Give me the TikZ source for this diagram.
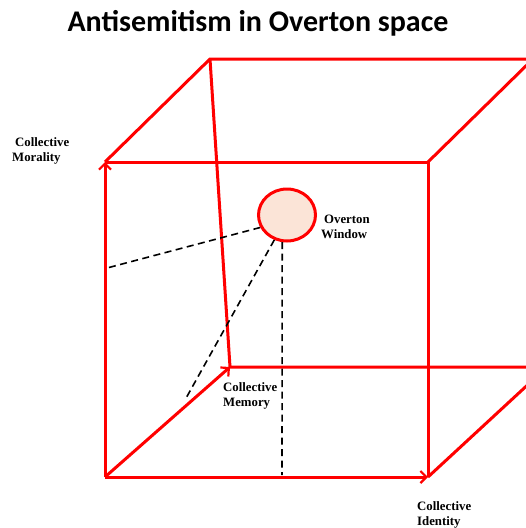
\documentclass[tikz,border=0pt]{standalone}
\usepackage{fontspec}
\setmainfont{Liberation Serif}
\newfontfamily\titlefont{Carlito}
\usetikzlibrary{arrows.meta,shapes.geometric}
\definecolor{cEdge}{HTML}{FF0000}
\definecolor{cWin}{HTML}{FBE4D7}
\tikzset{
  edge/.style={draw=cEdge,line width=3pt,line join=miter},
  aedge/.style={edge,-{Straight Barb[length=6pt,width=12pt,line width=2.2pt]}},
  guide/.style={draw=black,line width=1.6pt,dash pattern=on 7pt off 4.5pt},
  lbl/.style={font=\bfseries\fontsize{12.8}{15}\selectfont,align=left,inner sep=0pt,anchor=north west},
  win/.style={ellipse,draw=cEdge,fill=cWin,line width=3pt,minimum width=57pt,minimum height=52pt,inner sep=0pt}}
\begin{document}
\begin{tikzpicture}[x=1pt,y=-1pt]
\useasboundingbox (0,0) rectangle (526,528);
\clip (0,0) rectangle (526,528);
% cube corners
\coordinate (fbl) at (105,477);
\coordinate (fbr) at (428,477);
\coordinate (ftl) at (105,162);
\coordinate (ftr) at (428,162);
\coordinate (btl) at (210,59);
\coordinate (btr) at (533,59);
\coordinate (bbl) at (230,367);
\coordinate (bbr) at (547,367);
\node[font=\titlefont\bfseries\fontsize{30}{34}\selectfont,anchor=base] (title) at (258,31) {Antisemitism in Overton space};
% back and front faces
\draw[edge] (ftl) -- (btl) -- (btr);
\draw[edge] (btr) -- (ftr);
\draw[edge] (ftl) -- (ftr) -- (fbr);
\draw[edge] (btl) -- (bbl) -- (bbr) -- (fbr);
% axes
\draw[aedge] (fbl) -- (ftl);
\draw[aedge] (fbl) -- (fbr);
\draw[aedge] (fbl) -- (bbl);
% window and its projections
\node[win] (ow) at (287,215) {};
\coordinate (pmor) at (107,268);
\coordinate (pmem) at (185,400);
\coordinate (pid) at (282,475);
\draw[guide] (ow.205) -- (pmor);
\draw[guide] (ow.243) -- (pmem);
\draw[guide] (ow.-100) -- (pid);
% labels
\node[lbl] (lmor) at (12,137) {\hspace{3pt}Collective\\Morality};
\node[lbl] (lwin) at (321,215) {\hspace{3pt}Overton\\Window};
\node[lbl] (lmem) at (223,382) {Collective\\Memory};
\node[lbl] (lid) at (417,501) {Collective\\Identity};
\end{tikzpicture}
\end{document}
